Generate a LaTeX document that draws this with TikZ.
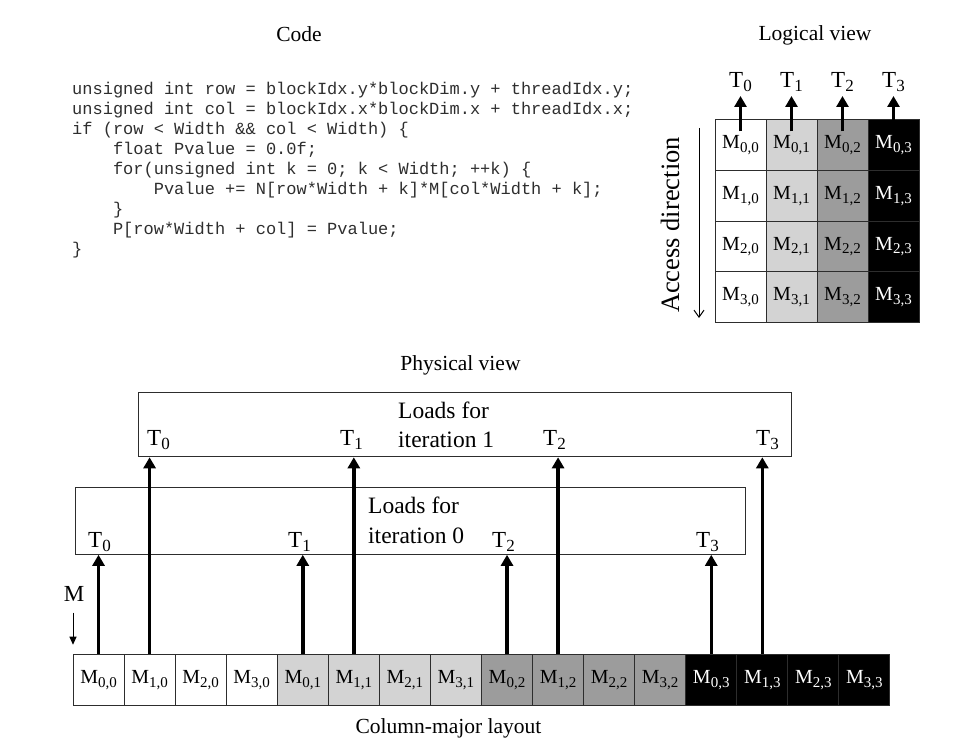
\documentclass[tikz,border=0pt]{standalone}
\usepackage{fontspec}
\setmainfont{Liberation Serif}
\setmonofont{Liberation Mono}
\usetikzlibrary{arrows.meta,calc}
\definecolor{lightc}{RGB}{211,211,211}
\definecolor{midc}{RGB}{156,156,156}
\definecolor{edgec}{RGB}{45,45,45}
\newcommand\Msub[1]{M\raisebox{-3.5pt}{\fontsize{15}{15}\selectfont #1}}
\newcommand\Tsub[1]{T\raisebox{-4pt}{\fontsize{17}{17}\selectfont #1}}
\tikzset{
  title/.style={font=\fontsize{21.5}{24}\selectfont, inner sep=0pt, anchor=base},
  codeline/.style={font=\ttfamily\fontsize{17}{20}\selectfont, inner sep=0pt, anchor=base west, text=black!82},
  cellbox/.style={draw=edgec, line width=1pt, minimum width=51pt, minimum height=50.6pt, inner sep=0pt, font=\fontsize{20}{20}\selectfont},
  rowcell/.style={cellbox, minimum width=51.06pt, minimum height=51pt},
  tlab/.style={font=\fontsize{23}{23}\selectfont, inner sep=0pt, anchor=base west},
  loadtxt/.style={font=\fontsize{23.5}{23.5}\selectfont, inner sep=0pt, anchor=base west},
  loadbox/.style={draw=edgec, line width=1.3pt, inner sep=0pt, anchor=north west},
  bigarrow/.style={line width=3.5pt, -{Triangle[length=11pt,width=12pt]}},
  smallarrow/.style={line width=1pt, -{Triangle[length=8pt,width=7pt]}},
  thinarrow/.style={line width=1pt, -{Straight Barb[length=7pt,width=10pt]}},
}
\begin{document}
\begin{tikzpicture}[x=1pt,y=-1pt]
\useasboundingbox (0,0) rectangle (964,746);

% ---------- Code ----------
\node[title] (codetitle) at (299,41.5) {Code};
\node[codeline] (c1) at (72,94.5) {unsigned int row = blockIdx.y*blockDim.y + threadIdx.y;};
\node[codeline] (c2) at (72,114.5) {unsigned int col = blockIdx.x*blockDim.x + threadIdx.x;};
\node[codeline] (c3) at (72,134.5) {if (row < Width \&\& col < Width) \{};
\node[codeline] (c4) at (112.8,154.5) {float Pvalue = 0.0f;};
\node[codeline] (c5) at (112.8,174.5) {for(unsigned int k = 0; k < Width; ++k) \{};
\node[codeline] (c6) at (153.6,194.5) {Pvalue += N[row*Width + k]*M[col*Width + k];};
\node[codeline] (c7) at (112.8,214.5) {\}};
\node[codeline] (c8) at (112.8,234.5) {P[row*Width + col] = Pvalue;};
\node[codeline] (c9) at (72,254.5) {\}};

% ---------- Logical view ----------
\node[title] (logtitle) at (815,41) {Logical view};
\foreach \j/\fc/\tc in {0/white/black,1/lightc/black,2/midc/black,3/black/white}{
  \foreach \i in {0,...,3}{
    \node[cellbox, fill=\fc, text=\tc] (L\i\j) at ({740.5+51*\j},{145.3+50.6*\i}) {\Msub{\i,\j}};
  }
}
\foreach \j in {0,...,3}{
  \node[tlab, anchor=base] (TL\j) at ({740.5+51*\j},88) {\Tsub{\j}};
  \draw[bigarrow] ($(L0\j.north)+(0,12)$) -- ($(TL\j.base)+(0,8)$);
}
\node[font=\fontsize{26.5}{26.5}\selectfont, inner sep=0pt, rotate=90] (acc) at (670,225) {Access direction};
\coordinate (accTop) at (699,128);
\coordinate (accBot) at (699,318);
\draw[thinarrow] (accTop) -- (accBot);

% ---------- Physical view ----------
\node[title] (phystitle) at (460.5,370) {Physical view};
\node[loadbox, minimum width=653pt, minimum height=64pt] (box1) at (138,392) {};
\node[loadbox, minimum width=670pt, minimum height=66.5pt] (box0) at (75,487) {};

\node[loadtxt] (l1a) at (398,418) {Loads for};
\node[loadtxt] (l1b) at (398,447) {iteration 1};
\node[loadtxt] (l0a) at (368,513) {Loads for};
\node[loadtxt] (l0b) at (368,543) {iteration 0};

\node[tlab] (P1T0) at (147,445) {\Tsub{0}};
\node[tlab] (P1T1) at (340,445) {\Tsub{1}};
\node[tlab] (P1T2) at (543,445) {\Tsub{2}};
\node[tlab] (P1T3) at (756,445) {\Tsub{3}};
\node[tlab] (P0T0) at (88,547) {\Tsub{0}};
\node[tlab] (P0T1) at (288,547) {\Tsub{1}};
\node[tlab] (P0T2) at (492,547) {\Tsub{2}};
\node[tlab] (P0T3) at (696,547) {\Tsub{3}};

% bottom row (column-major)
\foreach \j/\fc/\tc in {0/white/black,1/lightc/black,2/midc/black,3/black/white}{
  \foreach \i in {0,...,3}{
    \pgfmathtruncatemacro\k{4*\j+\i}
    \node[rowcell, fill=\fc, text=\tc] (B\k) at ({98.53+51.06*\k},680) {\Msub{\i,\j}};
  }
}
\foreach \k in {0,4,8,12}{
  \draw[bigarrow] (B\k.north) -- (B\k.north |- box0.south);
}
\foreach \k in {1,5,9,13}{
  \draw[bigarrow] (B\k.north) -- (B\k.north |- box1.south);
}

\node[font=\fontsize{23}{23}\selectfont, inner sep=0pt] (Mlab) at (74,594) {M};
\draw[smallarrow] ($(Mlab.south)+(-1,11)$) -- ($(Mlab.south)+(-1,43)$);

\node[title] (colmaj) at (448.5,733) {Column-major layout};
\end{tikzpicture}
\end{document}
